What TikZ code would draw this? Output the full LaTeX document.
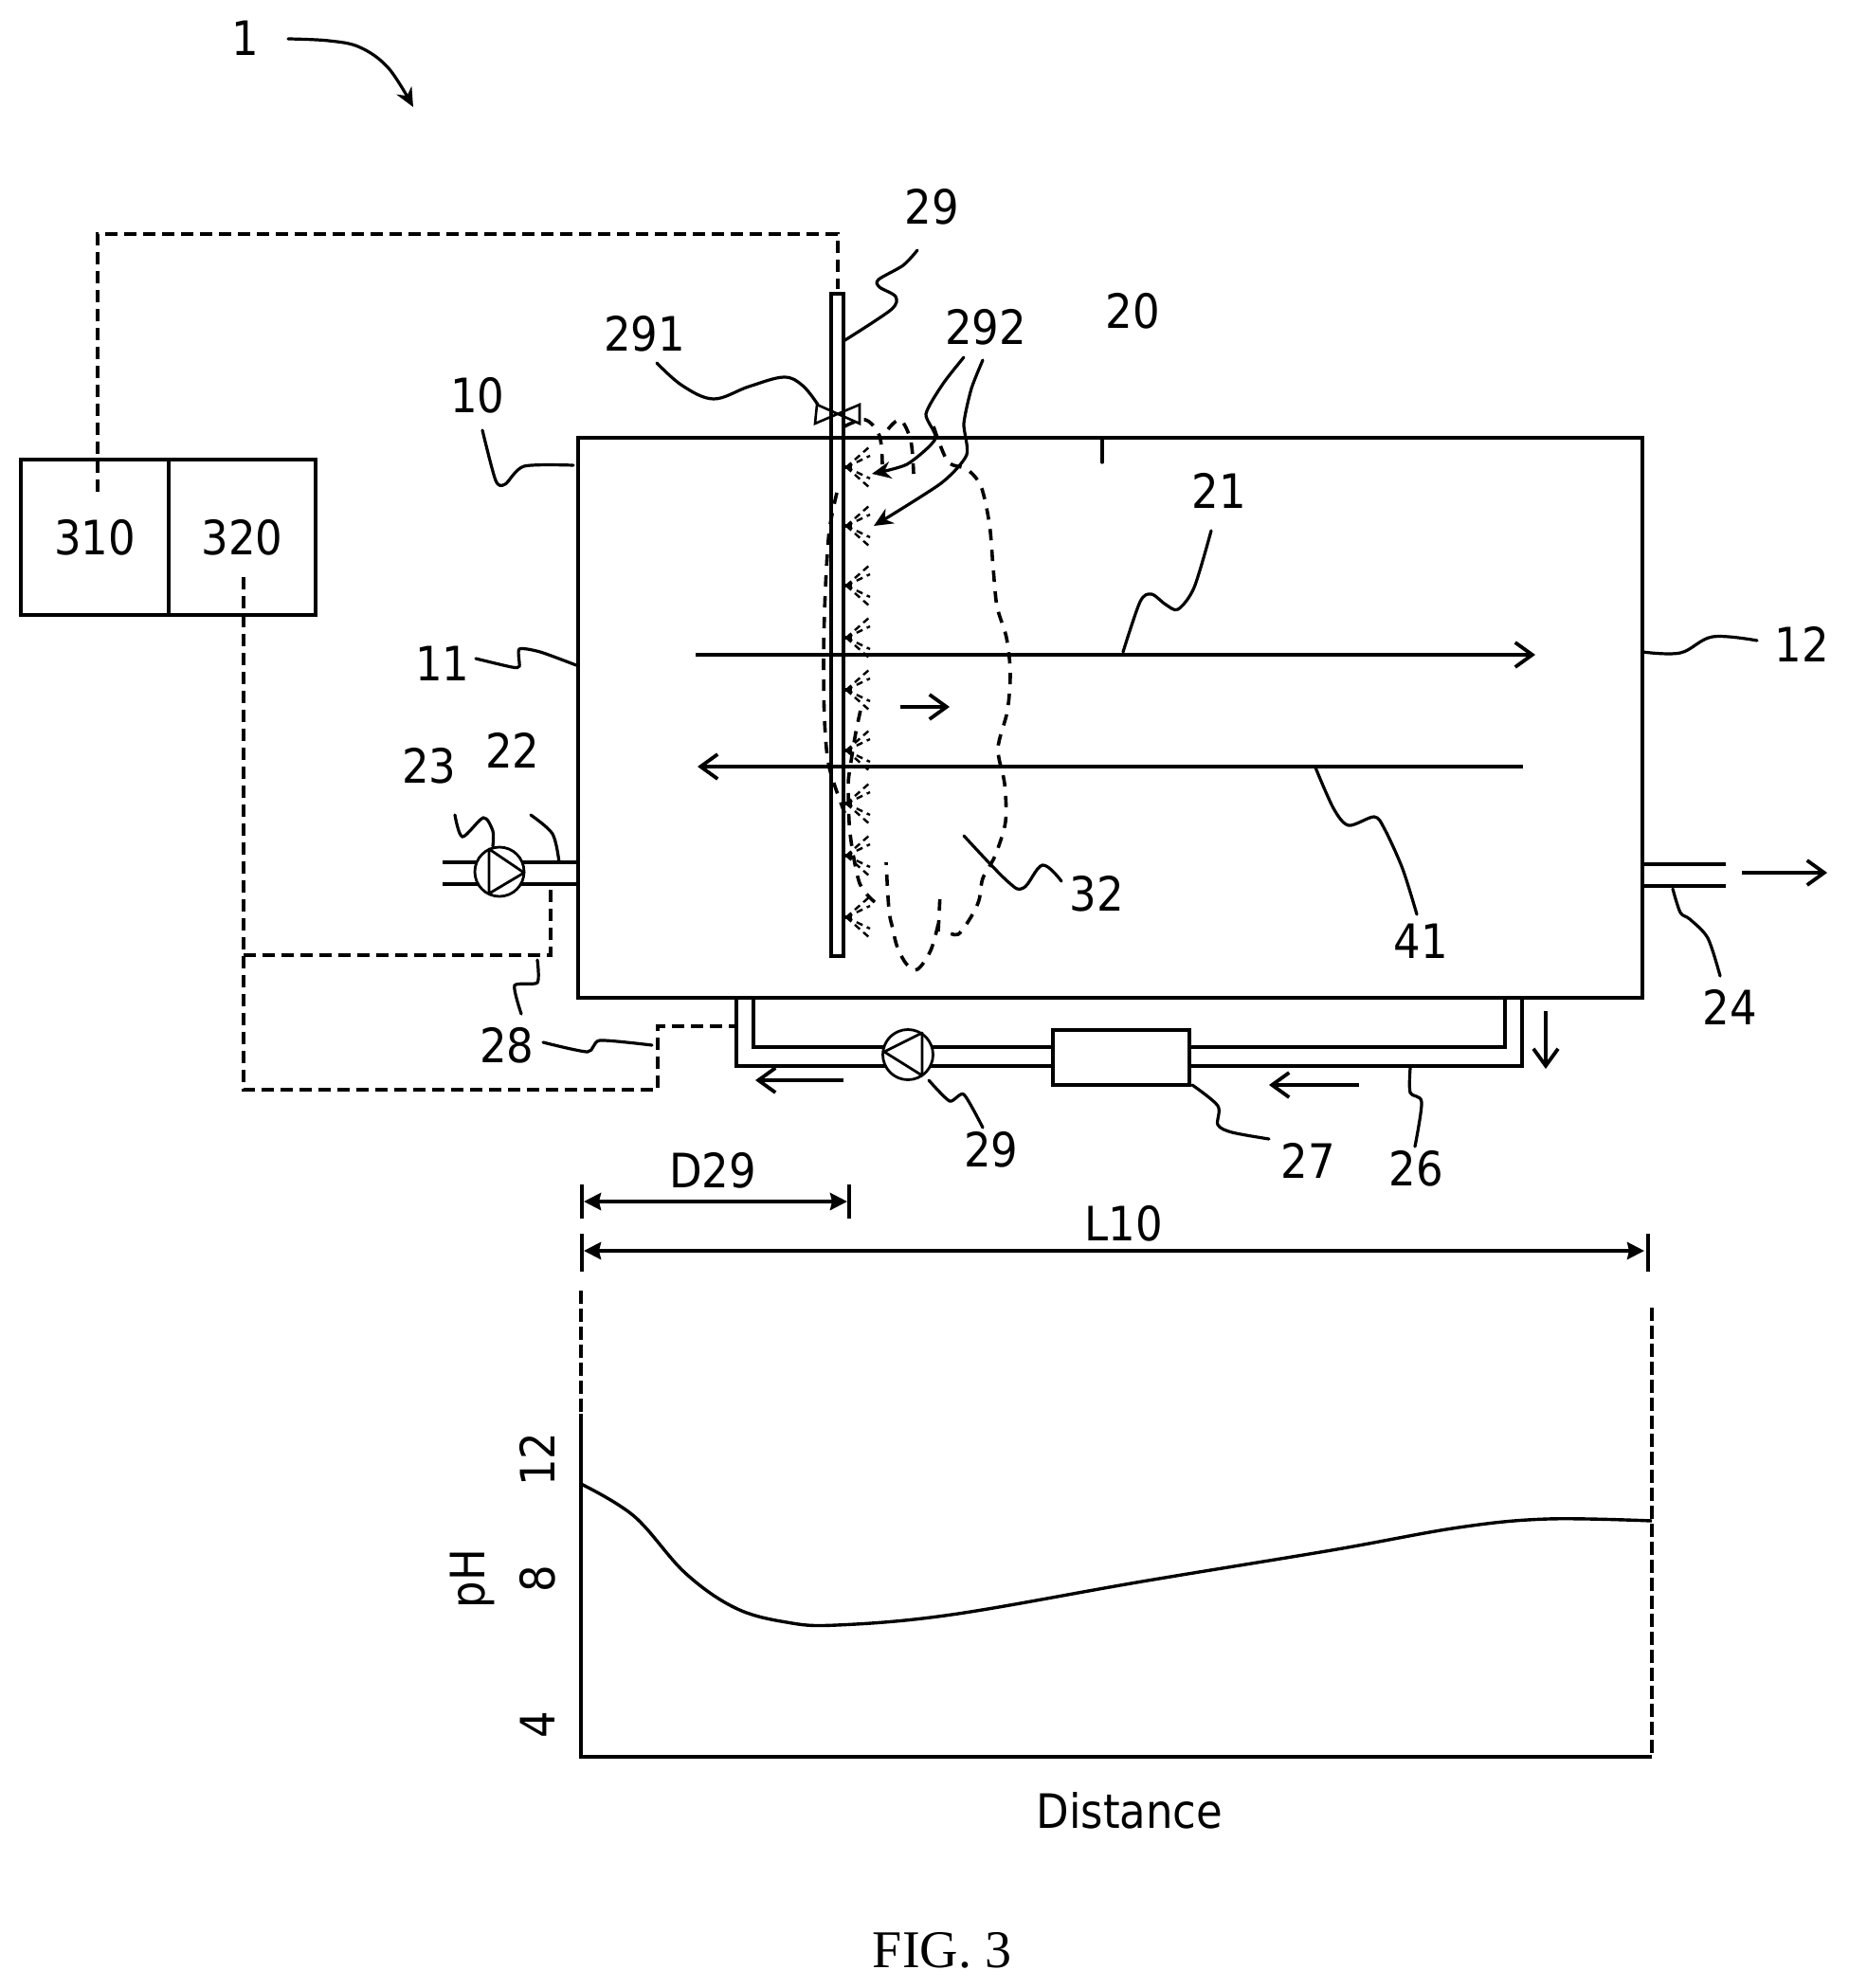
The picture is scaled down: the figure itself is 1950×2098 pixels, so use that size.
\documentclass[tikz,border=0pt]{standalone}
\usepackage{fontspec}
\setmainfont{DejaVu Sans Condensed}
\newfontfamily\figfont{Liberation Serif}
\usetikzlibrary{arrows.meta,calc}
\tikzset{
  wall/.style={draw=black,line width=2.2pt,line cap=round},
  pipe/.style={draw=black,line width=2.1pt},
  thin line/.style={draw=black,line width=2pt},
  leader/.style={draw=black,line width=1.6pt,line cap=round},
  sig/.style={draw=black,line width=1.6pt,dash pattern=on 6.5pt off 3.5pt},
  cloud/.style={draw=black,line width=1.8pt,dash pattern=on 6pt off 5pt},
  chartdash/.style={draw=black,line width=2pt,dash pattern=on 7pt off 2.5pt},
  lbl/.style={font=\fontsize{25}{25}\selectfont,inner sep=0pt},
  flow/.style={draw=black,line width=1.9pt,-{Straight Barb[length=9pt,width=13pt,line width=1.9pt]}},
  dim/.style={draw=black,line width=2pt,{Stealth[length=9pt,width=9pt,inset=1pt]}-{Stealth[length=9pt,width=9pt,inset=1pt]}},
  lead arrow/.style={leader,-{Stealth[length=10pt,width=9pt]}}
}
\newcommand{\spraymark}[1]{%
  \draw[line width=1.8pt] (890,#1) -- (899,#1);
  \foreach \a in {-22,-12,12,22}{
    \draw[line width=1.2pt,dash pattern=on 3.5pt off 2.5pt] (893,#1) -- (918,#1+\a);
  }
}
\begin{document}
\begin{tikzpicture}[x=0.5pt,y=-0.5pt]
\useasboundingbox (0,0) rectangle (1950,2098);
% tank
\node[wall,fill=none,minimum width=561.5pt,minimum height=295.5pt,inner sep=0pt,outer sep=0pt] (tank) at (1171.5,757.5) {};
% lance
\node[draw=black,line width=2pt,fill=none,minimum width=6.5pt,minimum height=349.5pt,inner sep=0pt,outer sep=0pt] (lance) at (883.5,659.5) {};
% process arrows
\coordinate (a21s) at (734,691); \coordinate (a21e) at (1620,691);
\coordinate (a41s) at (1607,809); \coordinate (a41e) at (736,809);
\draw[flow] (a21s) -- (a21e);
\draw[flow] (a41s) -- (a41e);
\coordinate (fs) at (950,746); \coordinate (fe) at (1002,746);
\draw[flow] (fs) -- (fe);
% sprays
\foreach \y in {493,555,618,673,728,792,848,903,968}{\spraymark{\y}}
% valve
\draw[leader,line width=1.3pt] (862,427) -- (860,447) -- (907,427) -- (907,447) -- cycle;
% cloud
\draw[cloud] plot[smooth,tension=0.55] coordinates {(891,450)(913,443)(928,460)(931,490)};
\draw[cloud] plot[smooth,tension=0.55] coordinates {(937,453)(950,443)(961,465)(964,500)};
\draw[cloud] plot[smooth,tension=0.5] coordinates {(985,450)(1000,487)(1020,495)(1035,513)(1044,553)(1048,600)(1052,640)(1062,673)(1066,710)(1063,750)(1053,790)(1060,827)(1061,867)(1050,903)(1037,927)(1033,950)(1025,967)(1011,986)(998,983)};
\draw[cloud] plot[smooth,tension=0.5] coordinates {(990,983)(992,943)};
\draw[cloud] plot[smooth,tension=0.6] coordinates {(990,975)(982,1003)(968,1023)(957,1018)(947,1000)(942,980)(938,960)(935,910)};
\draw[cloud] plot[smooth,tension=0.5] coordinates {(923,952)(907,932)(897,880)(895,830)(897,810)(903,773)(909,745)};
\draw[cloud] plot[smooth,tension=0.5] coordinates {(883,520)(875,560)(871,620)(869,690)(870,760)(875,810)(892,860)};
% inlet pipe
\coordinate (in1) at (467,910); \coordinate (in2) at (467,933);
\coordinate (t1) at (610,910); \coordinate (t2) at (610,933);
\draw[pipe] (in1) -- (t1); \draw[pipe] (in2) -- (t2);
\node[draw=black,line width=1.4pt,fill=white,circle,minimum size=26pt,inner sep=0pt] (pumpA) at (527,920) {};
\draw[line width=1.4pt,line join=round] (516,896) -- (516,943) -- (553,921) -- cycle;
% outlet
\coordinate (o1) at (1733,912); \coordinate (o2) at (1733,935);
\coordinate (oe1) at (1821,912); \coordinate (oe2) at (1821,935);
\draw[pipe] (o1) -- (oe1); \draw[pipe] (o2) -- (oe2);
\coordinate (ofs) at (1838,921); \coordinate (ofe) at (1928,921);
\draw[flow] (ofs) -- (ofe);
% recirculation
\coordinate (r1) at (777,1053); \coordinate (r2) at (795,1053);
\coordinate (r3) at (1588,1053); \coordinate (r4) at (1606,1053);
\draw[pipe,line join=miter] (r1) |- (1606,1125) -- (r4);
\draw[pipe,line join=miter] (r2) |- (1588,1105) -- (r3);
\node[draw=black,line width=2.1pt,fill=white,minimum width=72pt,minimum height=29pt,inner sep=0pt] (filter) at (1183,1116) {};
\node[draw=black,line width=1.4pt,fill=white,circle,minimum size=26.5pt,inner sep=0pt] (pumpB) at (958,1113) {};
\draw[line width=1.4pt,line join=round] (973,1090) -- (973,1135) -- (933,1110) -- cycle;
\coordinate (ra1) at (890,1140); \coordinate (ra2) at (797,1140);
\draw[flow] (ra1) -- (ra2);
\coordinate (rb1) at (1434,1145); \coordinate (rb2) at (1339,1145);
\draw[flow] (rb1) -- (rb2);
\coordinate (rc1) at (1631,1067); \coordinate (rc2) at (1631,1128);
\draw[flow] (rc1) -- (rc2);
% controller
\node[draw=black,line width=1.9pt,minimum width=78pt,minimum height=82pt,inner sep=0pt,outer sep=0pt,lbl] (c310) at (100,567) {310};
\node[draw=black,line width=1.9pt,minimum width=77.5pt,minimum height=82pt,inner sep=0pt,outer sep=0pt,lbl] (c320) at (255.5,567) {320};
% signal lines
\coordinate (s310) at (103,519); \coordinate (slance) at (884,305);
\draw[sig] (s310) -- (103,247) -- (884,247) -- (slance);
\coordinate (s320) at (257,609);
\draw[sig] (s320) -- (257,1150) -- (694,1150) -- (694,1083) -- (777,1083);
\draw[sig] (257,1008) -- (581,1008) -- (581,936);
% leaders
\draw[lead arrow] plot[smooth,tension=0.6] coordinates {(304,41)(347,43)(380,50)(410,72)(436,113)};
\draw[leader] plot[smooth,tension=0.5] coordinates {(968,264)(953,280)(927,295)(928,303)(945,313)(940,327)(890,360)};
\draw[leader] plot[smooth,tension=0.6] coordinates {(693,383)(720,407)(753,421)(790,408)(827,398)(847,407)(863,427)};
\draw[lead arrow] plot[smooth,tension=0.4] coordinates {(1017,377)(995,405)(977,437)(987,463)(957,490)(920,500)};
\draw[lead arrow] plot[smooth,tension=0.4] coordinates {(1037,380)(1025,410)(1017,447)(1020,480)(993,510)(922,555)};
\draw[leader] (1163,462) -- (1163,488);
\draw[leader] plot[smooth,tension=0.45] coordinates {(509,454)(523,507)(533,511)(553,492)(605,491)};
\draw[leader] plot[smooth,tension=0.4] coordinates {(502,695)(540,704)(548,703)(548,685)(570,688)(608,702)};
\draw[leader] plot[smooth,tension=0.6] coordinates {(1733,688)(1773,689)(1807,672)(1854,676)};
\draw[leader] plot[smooth,tension=0.5] coordinates {(1278,560)(1260,620)(1243,643)(1230,638)(1215,627)(1203,635)(1185,688)};
\draw[leader] plot[smooth,tension=0.5] coordinates {(1388,810)(1407,853)(1423,871)(1450,862)(1461,875)(1480,917)(1495,965)};
\draw[leader] plot[smooth,tension=0.6] coordinates {(1017,882)(1063,930)(1080,937)(1100,913)(1120,930)};
\draw[leader] plot[smooth,tension=0.5] coordinates {(480,860)(488,883)(510,863)(520,877)(520,893)};
\draw[leader] plot[smooth,tension=0.5] coordinates {(560,860)(583,880)(590,910)};
\draw[leader] plot[smooth,tension=0.4] coordinates {(550,1070)(543,1040)(567,1037)(567,1013)};
\draw[leader] plot[smooth,tension=0.4] coordinates {(573,1100)(620,1110)(633,1098)(688,1103)};
\draw[leader] plot[smooth,tension=0.5] coordinates {(1765,938)(1773,963)(1783,970)(1802,990)(1815,1030)};
\draw[leader] plot[smooth,tension=0.4] coordinates {(980,1140)(1002,1162)(1017,1155)(1037,1190)};
\draw[leader] plot[smooth,tension=0.5] coordinates {(1258,1145)(1285,1167)(1285,1187)(1300,1195)(1339,1202)};
\draw[leader] plot[smooth,tension=0.5] coordinates {(1488,1127)(1488,1153)(1500,1163)(1493,1210)};
% labels
\node[lbl] (n1) at (259,40) {1};
\node[lbl] (n29a) at (983,218) {29};
\node[lbl] (n291) at (680,352) {291};
\node[lbl] (n292) at (1040,345) {292};
\node[lbl] (n20) at (1195,328) {20};
\node[lbl] (n10) at (504,417) {10};
\node[lbl] (n11) at (467,700) {11};
\node[lbl] (n12) at (1901,680) {12};
\node[lbl] (n21) at (1286,518) {21};
\node[lbl] (n41) at (1499,993) {41};
\node[lbl] (n32) at (1157,943) {32};
\node[lbl] (n23) at (453,808) {23};
\node[lbl] (n22) at (541,792) {22};
\node[lbl] (n28) at (535,1103) {28};
\node[lbl] (n24) at (1825,1063) {24};
\node[lbl] (n29b) at (1046,1213) {29};
\node[lbl] (n27) at (1380,1225) {27};
\node[lbl] (n26) at (1494,1233) {26};
\node[lbl] (nD) at (752,1235) {D29};
\node[lbl] (nL) at (1186,1291) {L10};
% dimensions
\coordinate (dl) at (616,1268); \coordinate (dr) at (894,1268);
\draw[dim] (dl) -- (dr);
\coordinate (ll) at (616,1320); \coordinate (lr) at (1735,1320);
\draw[dim] (ll) -- (lr);
\draw[thin line] (896,1250) -- (896,1286);
\draw[thin line] (614,1250) -- (614,1286);
\draw[thin line] (614,1302) -- (614,1342);
\draw[thin line] (1739,1302) -- (1739,1342);
\draw[chartdash] (613,1362) -- (613,1492);
\draw[chartdash] (1743,1380) -- (1743,1854);
% chart
\coordinate (ax0) at (613,1854); \coordinate (axT) at (613,1492); \coordinate (axR) at (1743,1854);
\draw[wall,line cap=butt] (axT) -- (ax0) -- (axR);
\draw[line width=1.7pt] plot[smooth,tension=0.6] coordinates {(613,1566)(669,1600)(723,1660)(776,1697)(830,1712)(883,1715)(1004,1704)(1205,1669)(1405,1636)(1539,1612)(1633,1603)(1743,1605)};
\node[lbl,rotate=90] (t12) at (567,1540) {12};
\node[lbl,rotate=90] (t8) at (567,1666) {8};
\node[lbl,rotate=90] (t4) at (567,1820) {4};
\node[lbl,rotate=90] (tpH) at (498,1666) {pH};
\node[lbl] (tDist) at (1192,1911) {Distance};
\node[font=\figfont\fontsize{28}{28}\selectfont,inner sep=0pt] (tFig) at (994,2058) {FIG. 3};
\end{tikzpicture}
\end{document}
